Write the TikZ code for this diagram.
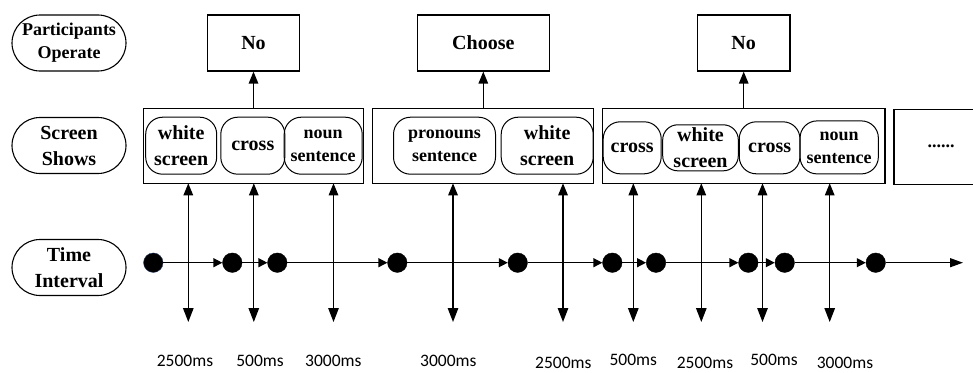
\documentclass[tikz,border=0pt]{standalone}
\usepackage{fontspec}
\setmainfont{Liberation Serif}
\newfontfamily\tfont{Carlito}
\usetikzlibrary{arrows.meta,shapes.misc}
\definecolor{dotblue}{RGB}{31,56,100}
\tikzset{
  lbl/.style={rounded rectangle, draw, line width=1.1pt, minimum width=114pt, minimum height=56pt, inner sep=0pt, align=center, font=\fontsize{20}{26}\selectfont\bfseries},
  lblsm/.style={lbl, font=\fontsize{18}{23}\selectfont\bfseries},
  opbox/.style={rectangle, draw, line width=1.2pt, inner sep=0pt, align=center, font=\fontsize{20}{24}\selectfont\bfseries},
  scr/.style={rectangle, draw, line width=1.2pt, inner sep=0pt},
  item/.style={rectangle, rounded corners=17pt, draw, line width=1pt, inner sep=0pt, align=center, minimum height=57pt, font=\fontsize{20}{26}\selectfont\bfseries},
  itemsm/.style={item, font=\fontsize{18}{23}\selectfont\bfseries},
  dot/.style={circle, fill=black, draw=black, minimum size=19.5pt, inner sep=0pt},
  harr/.style={line width=1.3pt, -{Triangle[length=9pt,width=9pt]}},
  earr/.style={line width=1.3pt, -{Triangle[length=13pt,width=9pt]}},
  varr/.style={line width=1.3pt, {Triangle[length=12pt,width=9.5pt]}-{Triangle[length=14pt,width=10.5pt]}},
  uarr/.style={line width=1.3pt, -{Triangle[length=12pt,width=9.5pt]}},
  ms/.style={inner sep=0pt, font=\tfont\fontsize{17.5}{20}\selectfont}
}
\begin{document}
\begin{tikzpicture}[x=1pt,y=-1pt]
\useasboundingbox (0,0) rectangle (973,372);
\clip (0,0) rectangle (973,372);
% left labels
\node[lblsm] (po) at (69,43) {Participants\\Operate};
\node[lbl] (ss) at (69,145.5) {Screen\\Shows};
\node[lbl] (ti) at (69,267.5) {Time\\Interval};
% operate boxes
\node[opbox, minimum width=92pt, minimum height=56pt] (no1) at (253.5,43) {No};
\node[opbox, minimum width=132pt, minimum height=56pt] (ch) at (483.3,43) {Choose};
\node[opbox, minimum width=92.7pt, minimum height=56pt] (no2) at (743.7,43) {No};
% screen boxes
\node[scr, minimum width=220pt, minimum height=75pt] (b1) at (253.3,145.8) {};
\node[scr, minimum width=220.6pt, minimum height=75pt] (b2) at (483,145.8) {};
\node[scr, minimum width=282.3pt, minimum height=75pt] (b3) at (743.8,145.8) {};
\node[scr, minimum width=94pt, minimum height=75pt, font=\fontsize{18}{20}\selectfont\bfseries] (b4) at (941,146.7) {......};
% items box1
\node[item, minimum width=71pt] (w1) at (181.2,145.7) {white\\screen};
\node[item, minimum width=64pt] (c1) at (252.8,145.7) {cross};
\node[itemsm, minimum width=78pt] (n1) at (323.2,145.7) {noun\\sentence};
% items box2
\node[itemsm, minimum width=102pt] (p2) at (444.5,145.7) {pronouns\\sentence};
\node[item, minimum width=92pt] (w2) at (547.2,145.7) {white\\screen};
% items box3
\node[item, minimum width=58pt, minimum height=52pt] (c3) at (632.2,147.8) {cross};
\node[item, minimum width=75.6pt, minimum height=46pt, rounded corners=15pt] (w3) at (700.5,147.8) {white\\screen};
\node[item, minimum width=60.7pt, minimum height=52pt] (c4) at (769.6,147.8) {cross};
\node[itemsm, minimum width=78.3pt, minimum height=53pt] (n3) at (839.2,147.4) {noun\\sentence};
% up arrows
\draw[uarr] (b1.north -| no1) -- (no1.south);
\draw[uarr] (b2.north -| ch) -- (ch.south);
\draw[uarr] (b3.north -| no2) -- (no2.south);
% time dots
\node[dot, draw=dotblue] (d1) at (153.3,262.7) {};
\node[dot] (d2) at (232.3,262.7) {};
\node[dot] (d3) at (277.3,262.7) {};
\node[dot] (d4) at (397.3,262.7) {};
\node[dot] (d5) at (517.7,262.7) {};
\node[dot] (d6) at (612.3,262.7) {};
\node[dot] (d7) at (656,262.7) {};
\node[dot] (d8) at (748.3,262.7) {};
\node[dot] (d9) at (784.7,262.7) {};
\node[dot] (d10) at (875.7,262.7) {};
\coordinate (tend) at (963,262.7);
\foreach \a/\b in {d1/d2,d2/d3,d3/d4,d4/d5,d5/d6,d6/d7,d7/d8,d8/d9,d9/d10}
  \draw[harr] (\a) -- (\b);
\draw[earr] (d10) -- (tend);
% vertical arrows
\foreach \i/\x in {1/188.3,2/253.8,3/333.5,4/453,5/563,6/633.3,7/701.3,8/762.5,9/829.7}{
  \coordinate (vt\i) at (\x,183.3);
  \coordinate (vb\i) at (\x,322);
  \draw[varr] (vt\i) -- (vb\i);
}
% time labels
\node[ms] (m1) at (185,361) {2500ms};
\node[ms] (m2) at (260,361) {500ms};
\node[ms] (m3) at (333.3,361) {3000ms};
\node[ms] (m4) at (448.3,361) {3000ms};
\node[ms] (m5) at (563.3,362.5) {2500ms};
\node[ms] (m6) at (633.3,360) {500ms};
\node[ms] (m7) at (705,362.5) {2500ms};
\node[ms] (m8) at (774,360) {500ms};
\node[ms] (m9) at (845,363) {3000ms};
\end{tikzpicture}
\end{document}
